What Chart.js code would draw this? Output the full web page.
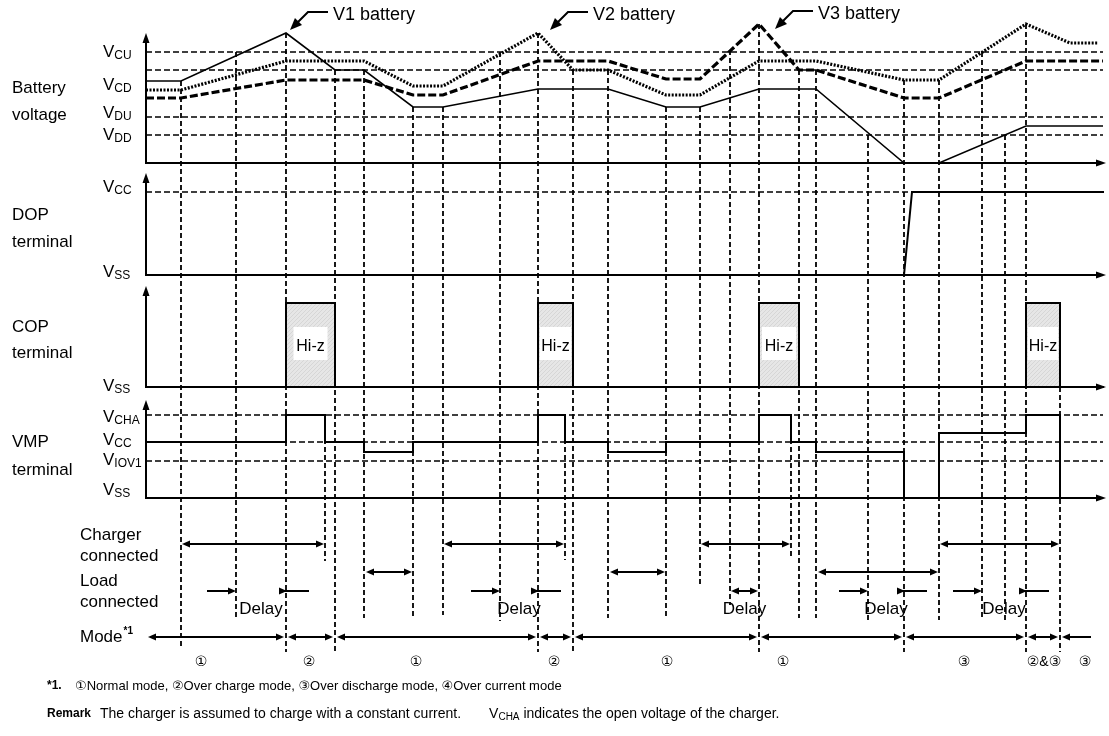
<!DOCTYPE html>
<html>
<head>
<meta charset="utf-8">
<title>Timing chart</title>
<script src="https://cdn.jsdelivr.net/npm/chart.js@4.4.1/dist/chart.umd.min.js"></script>
<style>
  html, body { margin: 0; padding: 0; background: #ffffff; }
  canvas { display: block; }
</style>
</head>
<body>
<canvas id="myChart" width="1109" height="736"></canvas>
<script>
// ---- data: time in arbitrary units (0 = start), levels in diagram units ----

// Battery voltage panel
const batLevelNames = ['CU', 'CD', 'DU', 'DD'];
const batLevels = [11.1, 9.3, 4.6, 2.8];
const v1Times = [0, 3.5, 14.0, 18.9, 21.8, 26.7, 29.7, 39.2, 46.2, 52.0, 55.4, 61.3, 67.0, 75.8, 79.3, 88.0, 95.7];
const v1Volts = [8.2, 8.2, 13.0, 9.3, 9.3, 5.6, 5.6, 7.4, 7.4, 5.6, 5.6, 7.4, 7.4, 0, 0, 3.7, 3.7];
const v2Times = [0, 3.5, 14.0, 21.8, 26.7, 29.7, 39.2, 42.7, 46.2, 52.0, 55.4, 61.3, 67.0, 75.8, 79.3, 88.0, 92.4, 95.2];
const v2Volts = [7.3, 7.3, 10.2, 10.2, 7.7, 7.7, 13.0, 9.3, 9.3, 6.8, 6.8, 10.2, 10.2, 8.3, 8.3, 13.9, 12.0, 12.0];
const v3Times = [0, 3.5, 14.0, 21.8, 26.7, 29.7, 39.2, 46.2, 52.0, 55.4, 61.3, 65.3, 67.0, 75.8, 79.3, 88.0, 95.7];
const v3Volts = [6.5, 6.5, 8.3, 8.3, 6.8, 6.8, 10.2, 10.2, 8.4, 8.4, 13.9, 9.3, 9.3, 6.5, 6.5, 10.2, 10.2];
const calloutText = ['V1 battery', 'V2 battery', 'V3 battery'];
const calloutTimes = [14.4, 40.4, 62.9];
const calloutVolts = [13.3, 13.3, 13.4];

// DOP terminal
const dopLevelNames = ['CC'];
const dopLevels = [8.3];
const dopTimes = [0, 75.8, 76.6, 95.8];
const dopVolts = [0, 0, 8.3, 8.3];

// COP terminal (Hi-z windows)
const hizStart = [14.0, 39.2, 61.3, 88.0];
const hizEnd = [18.9, 42.7, 65.3, 91.4];
const hizLevel = 8.4;

// VMP terminal (step signal: value holds until the next time)
const vmpLevelNames = ['CHA', 'CC', 'IOV1'];
const vmpLevels = [8.3, 5.6, 3.7];
const vmpTimes = [0, 14.0, 17.9, 21.8, 26.7, 39.2, 41.9, 46.2, 52.0, 61.3, 64.5, 67.0, 75.8, 79.3, 88.0, 91.4];
const vmpVolts = [5.6, 8.3, 5.6, 4.6, 5.6, 8.3, 5.6, 4.6, 5.6, 8.3, 5.6, 4.6, 0, 6.5, 8.3, 0];

// Event rows
const chargerOn = [[3.5, 17.9], [29.7, 41.9], [55.4, 64.5], [79.3, 91.4]];
const loadOn = [[21.8, 26.7], [46.2, 52.0], [67.0, 79.3]];
const delays = [[9.0, 14.0], [35.4, 39.2], [58.4, 61.3], [72.2, 75.8], [83.6, 88.0]];
const modeBounds = [0, 14.0, 18.9, 39.2, 42.7, 61.3, 75.8, 88.0, 91.4, 94.7];
const modeLabels = ['①', '②', '①', '②', '①', '①', '③', '②&③', '③'];
const modeLabelTimes = [5.5, 16.3, 27.0, 40.8, 52.1, 63.7, 81.8, 89.8, 93.9];

// Vertical dashed guides: [time, axis of top end, top value, bottom on event rows]
const guideLines = [
  [3.5, 'yBat', 8.2, 15.0], [9.0, 'yBat', 11.1, 12.0], [14.0, 'yBat', 13.0, 15.4],
  [17.9, 'yVmp', 8.3, 6.3], [18.9, 'yBat', 9.3, 15.4], [21.8, 'yBat', 9.3, 12.0],
  [26.7, 'yBat', 5.6, 12.0], [29.7, 'yBat', 5.6, 11.7], [35.4, 'yBat', 11.1, 12.3],
  [39.2, 'yBat', 13.0, 15.4], [41.9, 'yVmp', 8.3, 6.2], [42.7, 'yBat', 9.3, 15.4],
  [46.2, 'yBat', 9.3, 12.0], [52.0, 'yBat', 5.6, 12.0], [55.4, 'yBat', 5.6, 8.7],
  [58.4, 'yBat', 11.3, 10.7], [61.3, 'yBat', 13.9, 15.4], [64.5, 'yVmp', 8.3, 6.0],
  [65.3, 'yBat', 9.3, 12.0], [67.0, 'yBat', 9.3, 12.0], [72.2, 'yBat', 2.8, 12.2],
  [75.8, 'yBat', 8.3, 15.4], [79.3, 'yBat', 8.3, 12.2], [83.6, 'yBat', 11.1, 11.9],
  [85.9, 'yBat', 2.8, 12.4], [88.0, 'yBat', 13.9, 15.4], [91.4, 'yCop', 0, 15.4]
];

// ---- layout constants (event row positions, label offsets) ----
const ROW_CHARGER = 4.6, ROW_LOAD = 7.4, ROW_DELAY = 9.3, ROW_DELAY_TEXT = 11.1, ROW_MODE = 13.9, ROW_MODE_LABEL = 16.4;
const FONT = '"Liberation Sans", "DejaVu Sans", sans-serif';
const T_END = 96;

function pts(ts, vs) {
  return ts.map((t, i) => ({ x: t, y: vs[i] }));
}

// light grey hatch used inside the Hi-z boxes
function hatchPattern() {
  const c = document.createElement('canvas');
  c.width = 4; c.height = 4;
  const g = c.getContext('2d');
  g.fillStyle = '#e6e6e6';
  g.fillRect(0, 0, 4, 4);
  g.fillStyle = '#d6d6d6';
  g.fillRect(0, 3, 1, 1); g.fillRect(1, 2, 1, 1); g.fillRect(2, 1, 1, 1); g.fillRect(3, 0, 1, 1);
  return g.createPattern(c, 'repeat');
}

// COP outline: along VSS, up and across each Hi-z window
const copPoints = [{ x: 0, y: 0 }];
hizStart.forEach((a, i) => {
  copPoints.push({ x: a, y: 0 }, { x: a, y: hizLevel }, { x: hizEnd[i], y: hizLevel }, { x: hizEnd[i], y: 0 });
});
copPoints.push({ x: 95.8, y: 0 });

function levelLine(axis, v) {
  return {
    data: [{ x: 0, y: v }, { x: 95.7, y: v }],
    yAxisID: axis, borderColor: '#000', borderWidth: 1.5, borderDash: [6, 3]
  };
}

const datasets = [
  { label: 'V1 battery', data: pts(v1Times, v1Volts), yAxisID: 'yBat', borderColor: '#000', borderWidth: 1.6 },
  { label: 'V2 battery', data: pts(v2Times, v2Volts), yAxisID: 'yBat', borderColor: '#000', borderWidth: 3.2, borderDash: [2, 1.5] },
  { label: 'V3 battery', data: pts(v3Times, v3Volts), yAxisID: 'yBat', borderColor: '#000', borderWidth: 3.2, borderDash: [8, 3] },
  { label: 'DOP', data: pts(dopTimes, dopVolts), yAxisID: 'yDop', borderColor: '#000', borderWidth: 2 },
  { label: 'COP', data: copPoints, yAxisID: 'yCop', borderColor: '#000', borderWidth: 2, fill: 'origin', backgroundColor: hatchPattern() },
  { label: 'VMP', data: pts(vmpTimes, vmpVolts), yAxisID: 'yVmp', borderColor: '#000', borderWidth: 2, stepped: 'before' }
];
batLevels.forEach(v => datasets.push(levelLine('yBat', v)));
dopLevels.forEach(v => datasets.push(levelLine('yDop', v)));
vmpLevels.forEach(v => datasets.push(levelLine('yVmp', v)));

// ---- drawing helpers ----
function head(c, x, y, ang, len, half) {
  c.save();
  c.translate(x, y);
  c.rotate(ang);
  c.beginPath();
  c.moveTo(0, 0);
  c.lineTo(-len, -half);
  c.lineTo(-len, half);
  c.closePath();
  c.fill();
  c.restore();
}

function hArrow(c, x1, x2, y, left, right) {
  const len = 8, half = 3.5;
  c.lineWidth = 2;
  c.beginPath();
  c.moveTo(left ? x1 + len - 1 : x1, y);
  c.lineTo(right ? x2 - len + 1 : x2, y);
  c.stroke();
  if (left) head(c, x1, y, Math.PI, len, half);
  if (right) head(c, x2, y, 0, len, half);
}

function txt(c, s, x, y, size, weight, align) {
  c.font = (weight || 'normal') + ' ' + size + 'px ' + FONT;
  c.textAlign = align || 'left';
  c.textBaseline = 'middle';
  c.fillText(s, x, y);
  return c.measureText(s).width;
}

function vLabel(c, sub, x, y) {
  const w = txt(c, 'V', x, y, 17);
  txt(c, sub, x + w, y + 4, 12);
}

const diagram = {
  id: 'diagram',
  beforeDatasetsDraw(chart) {
    const c = chart.ctx, s = chart.scales;
    c.save();
    c.strokeStyle = '#000';
    c.lineWidth = 1.8;
    c.setLineDash([5, 3]);
    guideLines.forEach(g => {
      const px = s.x.getPixelForValue(g[0]);
      c.beginPath();
      c.moveTo(px, s[g[1]].getPixelForValue(g[2]));
      c.lineTo(px, s.yEvt.getPixelForValue(g[3]));
      c.stroke();
    });
    c.restore();
  },
  afterDatasetsDraw(chart) {
    const c = chart.ctx, s = chart.scales;
    const X = v => s.x.getPixelForValue(v);
    c.save();
    c.fillStyle = '#000';
    c.strokeStyle = '#000';
    c.setLineDash([]);

    // panel axes with arrows
    [['yBat', 13.0], ['yDop', 10.2], ['yCop', 10.1], ['yVmp', 9.8]].forEach(([id, tip]) => {
      const y0 = s[id].getPixelForValue(0), y1 = s[id].getPixelForValue(tip);
      const x0 = X(0), x1 = X(T_END);
      c.lineWidth = 2;
      c.beginPath(); c.moveTo(x0, y0 + 1); c.lineTo(x0, y1 + 6); c.stroke();
      c.beginPath(); c.moveTo(x0, y0); c.lineTo(x1 - 6, y0); c.stroke();
      head(c, x0, y1, -Math.PI / 2, 10, 3.5);
      head(c, x1, y0, 0, 10, 3.5);
    });

    // Hi-z labels
    hizStart.forEach((a, i) => {
      const xa = X(a), xb = X(hizEnd[i]);
      const cx = (xa + xb) / 2, w = Math.min(34, xb - xa - 4);
      const top = s.yCop.getPixelForValue(6.0), bot = s.yCop.getPixelForValue(2.7);
      c.fillStyle = '#fff';
      c.fillRect(cx - w / 2, top, w, bot - top);
      c.fillStyle = '#000';
      txt(c, 'Hi-z', cx, s.yCop.getPixelForValue(4.0), 16, 'normal', 'center');
    });

    // battery callouts
    calloutText.forEach((t, i) => {
      const tx = X(calloutTimes[i]), ty = s.yBat.getPixelForValue(calloutVolts[i]);
      const ex = tx + 18, ey = ty - 18;
      c.lineWidth = 2;
      c.beginPath(); c.moveTo(ex + 20, ey); c.lineTo(ex, ey); c.lineTo(tx + 5, ty - 5); c.stroke();
      head(c, tx, ty, 3 * Math.PI / 4, 12, 5);
      txt(c, t, ex + 25, ey + 3, 18);
    });

    // level labels
    const batDy = [0, 15, -4, 0];
    batLevelNames.forEach((n, i) => vLabel(c, n, 103, s.yBat.getPixelForValue(batLevels[i]) + batDy[i]));
    vLabel(c, dopLevelNames[0], 103, s.yDop.getPixelForValue(dopLevels[0]) - 5);
    vLabel(c, 'SS', 103, s.yDop.getPixelForValue(0) - 3);
    vLabel(c, 'SS', 103, s.yCop.getPixelForValue(0) - 1);
    const vmpDy = [2, -2, -1];
    vmpLevelNames.forEach((n, i) => vLabel(c, n, 103, s.yVmp.getPixelForValue(vmpLevels[i]) + vmpDy[i]));
    vLabel(c, 'SS', 103, s.yVmp.getPixelForValue(0) - 8);

    // panel titles
    [['Battery', 88], ['voltage', 115], ['DOP', 215], ['terminal', 242], ['COP', 327],
     ['terminal', 353], ['VMP', 442], ['terminal', 470]].forEach(([t, y]) => txt(c, t, 12, y, 17));

    // event rows
    const E = v => s.yEvt.getPixelForValue(v);
    [['Charger', 535], ['connected', 556], ['Load', 581], ['connected', 602]].forEach(([t, y]) => txt(c, t, 80, y, 17));
    const mw = txt(c, 'Mode', 80, E(ROW_MODE), 17);
    txt(c, '*1', 80 + mw + 1, E(ROW_MODE) - 6, 10, 'bold');

    chargerOn.forEach(([a, b]) => hArrow(c, X(a) + 1, X(b) - 1, E(ROW_CHARGER), true, true));
    loadOn.forEach(([a, b]) => hArrow(c, X(a) + 2, X(b) - 1, E(ROW_LOAD), true, true));
    delays.forEach(([a, b]) => {
      const xa = X(a), xb = X(b), y = E(ROW_DELAY);
      if (b - a < 3.2) {
        hArrow(c, xa + 1, xb - 1, y, true, true);
      } else {
        hArrow(c, xa - 29, xa, y, false, true);
        hArrow(c, xb + 23, xb + 1, y, false, true);
      }
      txt(c, 'Delay', (xa + xb) / 2, E(ROW_DELAY_TEXT), 17, 'normal', 'center');
    });
    for (let i = 0; i < modeBounds.length - 1; i++) {
      const last = i === modeBounds.length - 2;
      hArrow(c, X(modeBounds[i]) + 2, X(modeBounds[i + 1]) - 2, E(ROW_MODE), true, !last);
    }
    modeLabels.forEach((m, i) => txt(c, m, X(modeLabelTimes[i]), E(ROW_MODE_LABEL), 14, 'normal', 'center'));

    // footnotes
    txt(c, '*1.', 47, 686, 12, 'bold');
    txt(c, '①Normal mode, ②Over charge mode, ③Over discharge mode, ④Over current mode', 75, 686, 13);
    txt(c, 'Remark', 47, 714, 12, 'bold');
    const w1 = txt(c, 'The charger is assumed to charge with a constant current.', 100, 714, 14);
    const vx = 100 + w1 + 28;
    const wv = txt(c, 'V', vx, 714, 14);
    const ws = txt(c, 'CHA', vx + wv, 717, 10);
    txt(c, ' indicates the open voltage of the charger.', vx + wv + ws, 714, 14);
    c.restore();
  }
};

const config = {
  type: 'line',
  data: { datasets: datasets },
  options: {
    responsive: false,
    animation: false,
    events: [],
    layout: { padding: { left: 146, right: 3, top: 13, bottom: 68 } },
    elements: { point: { radius: 0 }, line: { tension: 0 } },
    datasets: { line: { clip: false, fill: false } },
    plugins: { legend: { display: false }, tooltip: { enabled: false }, colors: { enabled: false } },
    scales: {
      x: { type: 'linear', min: 0, max: T_END, display: false },
      yBat: { type: 'linear', position: 'left', stack: 'panels', stackWeight: 150, weight: 5, min: 0, max: 15, display: false },
      yDop: { type: 'linear', position: 'left', stack: 'panels', stackWeight: 112, weight: 4, min: 0, max: 11.2, display: false },
      yCop: { type: 'linear', position: 'left', stack: 'panels', stackWeight: 112, weight: 3, min: 0, max: 11.2, display: false },
      yVmp: { type: 'linear', position: 'left', stack: 'panels', stackWeight: 111, weight: 2, min: 0, max: 11.1, display: false },
      yEvt: { type: 'linear', position: 'left', stack: 'panels', stackWeight: 170, weight: 1, min: 0, max: 17, reverse: true, display: false }
    }
  },
  plugins: [diagram]
};

const myChart = new Chart(document.getElementById('myChart'), config);
</script>
</body>
</html>
